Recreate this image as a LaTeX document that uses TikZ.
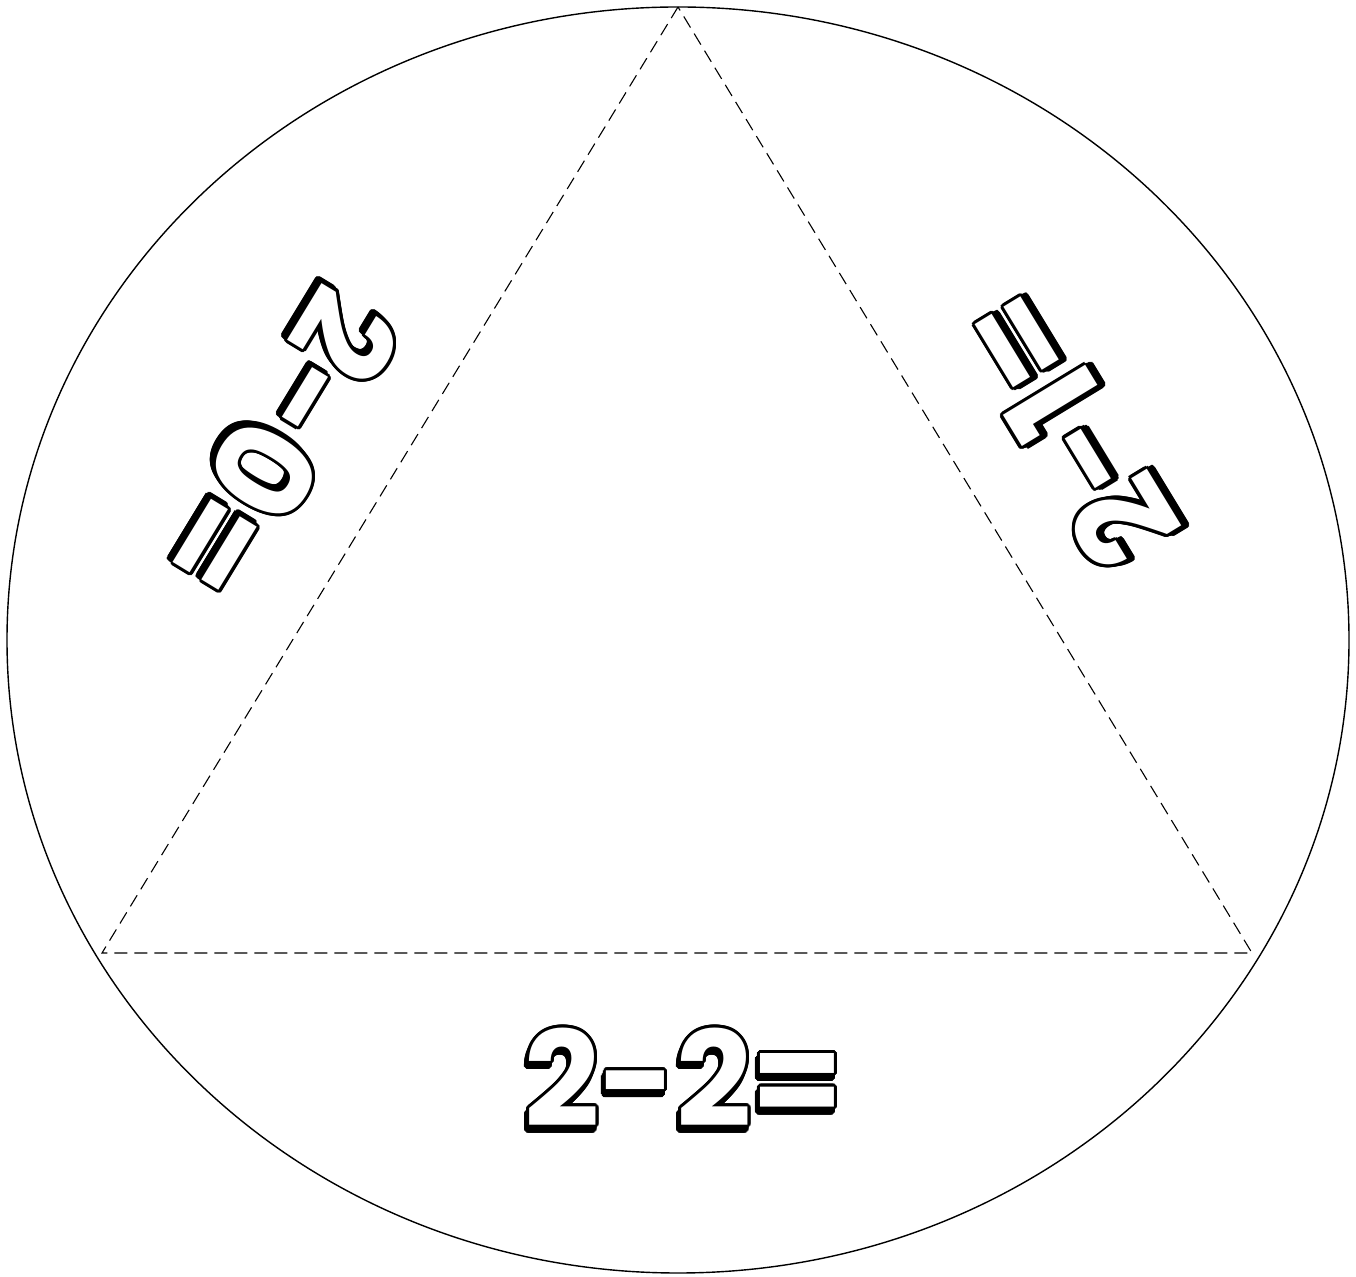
\documentclass[tikz,border=0pt]{standalone}
\usepackage{fontspec}
\newfontfamily\bub{Poppins}
\tikzset{
  rim/.style={line width=1.4pt},
  tri/.style={line width=1.1pt, dash pattern=on 13pt off 7pt},
  glyph/.style={font=\bub\bfseries\fontsize{132}{132}\selectfont, inner sep=0pt, anchor=center, transform shape},
}
\newcommand\bubbly[4]{%
  \begin{scope}[shift={#2}, rotate=#3]
    \begin{scope}[shift={(-2pt,-5pt)}]
      \foreach \a in {0,22.5,...,337.5} {\node[glyph,text=black] at (\a:3pt) {#4};}
    \end{scope}
    \foreach \a in {0,22.5,...,337.5} {\node[glyph,text=black] at (\a:3pt) {#4};}
    \node[glyph,text=white] (#1) at (0,0) {#4};
  \end{scope}}
\begin{document}
\begin{tikzpicture}[x=1pt,y=1pt]
  \useasboundingbox (0,0) rectangle (1356,1276);
  \coordinate (c) at (678,636);
  \coordinate (apex) at (678,1269);
  \coordinate (bl) at (102,323);
  \coordinate (br) at (1252,323);
  \draw[rim] (c) ellipse [x radius=671, y radius=633];
  \draw[tri] (apex) -- (bl) -- (br) -- cycle;
  \bubbly{bottom}{(684,199)}{0}{2-2=}
  \bubbly{left}{(280,831)}{238.7}{2-0=}
  \bubbly{right}{(1067,846)}{121.3}{2-1=}
\end{tikzpicture}
\end{document}
